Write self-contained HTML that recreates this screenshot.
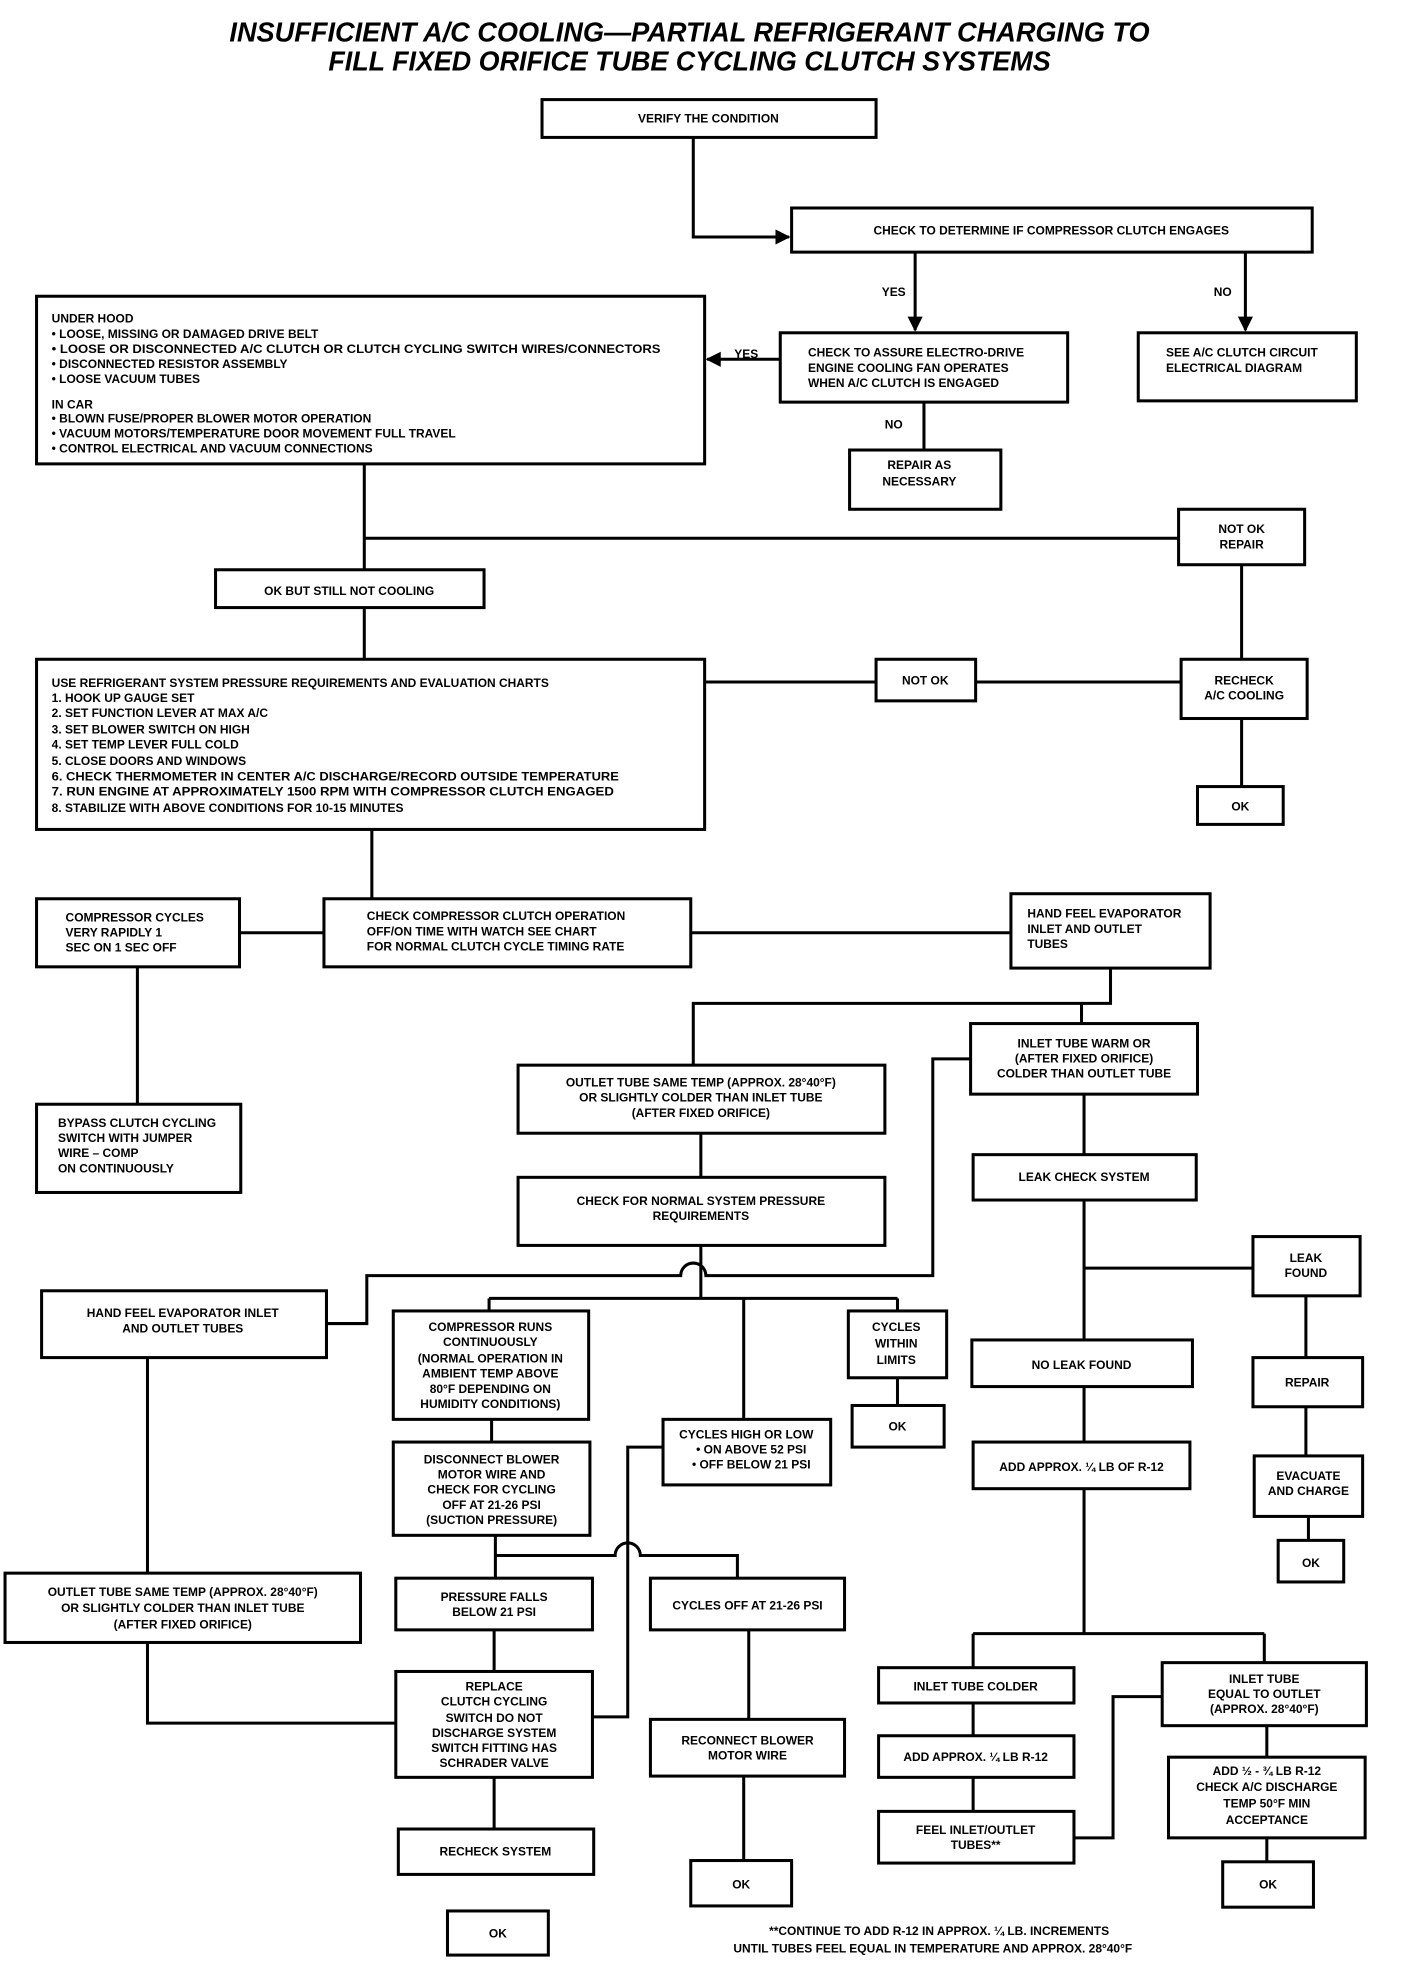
<!DOCTYPE html>
<html><head><meta charset="utf-8"><style>
html,body{margin:0;padding:0;background:#fff;}
svg{display:block;}
text{font-family:"Liberation Sans",sans-serif;font-weight:bold;font-size:9.5px;fill:#000;}
.c{text-anchor:middle;}
.t{font-size:22px;font-style:italic;text-anchor:middle;}
rect{fill:#fff;stroke:#000;stroke-width:2.4;}
.l{fill:none;stroke:#000;stroke-width:2.4;}
</style></head><body>
<svg width="1408" height="1974" viewBox="0 0 1117 1566" xmlns="http://www.w3.org/2000/svg">
<defs><marker id="a" viewBox="0 0 10 10" refX="9" refY="5" markerWidth="5" markerHeight="5" orient="auto"><path d="M0,0 L10,5 L0,10z" fill="#000"/></marker></defs>
<text class="t" x="547" y="33" textLength="730" lengthAdjust="spacingAndGlyphs">INSUFFICIENT A/C COOLING—PARTIAL REFRIGERANT CHARGING TO</text>
<text class="t" x="547" y="56" textLength="573" lengthAdjust="spacingAndGlyphs">FILL FIXED ORIFICE TUBE CYCLING CLUTCH SYSTEMS</text>

<path class="l" d="M550,109 V188 H626" marker-end="url(#a)"/>
<path class="l" d="M726,200 V262" marker-end="url(#a)"/>
<path class="l" d="M988,200 V262" marker-end="url(#a)"/>
<path class="l" d="M619,285 H561" marker-end="url(#a)"/>
<path class="l" d="M733,319 V357"/>
<path class="l" d="M289,368 V452 M289,427 H935 M289,482 V523"/>
<path class="l" d="M559,541 H695 M774,541 H937 M985,448 V523 M985,570 V624"/>
<path class="l" d="M295,658 V713 M190,740 H257 M548,740 H802 M109,767 V876"/>
<path class="l" d="M881,768 V796 H550 V845 M858,796 V812"/>
<path class="l" d="M556,899 V934 M860,868 V916"/>
<path class="l" d="M556,988 V1030 M388,1030 H712 M388,1030 V1040 M590,1030 V1126 M712,1030 V1040"/>
<path class="l" d="M259,1050 H291 V1012 H540 A10,10 0 0 1 560,1012 H740 V840 H770"/>
<path class="l" d="M712,1093 V1115"/>
<path class="l" d="M117,1077 V1248 M117,1303 V1367 H314"/>
<path class="l" d="M390,1126 V1144 M393,1218 V1252 M393,1234 H488 A10,10 0 0 1 508,1234 H585 V1252"/>
<path class="l" d="M526,1148 H498 V1362 H470"/>
<path class="l" d="M392,1293 V1326 M392,1410 V1451 M594,1293 V1364 M590,1409 V1476"/>
<path class="l" d="M860,952 V1063 M860,1006 H994 M860,1100 V1144 M1036,1028 V1077 M1036,1116 V1155 M1038,1203 V1222"/>
<path class="l" d="M860,1181 V1296 M772,1296 H1003 M772,1296 V1323 M1003,1296 V1319"/>
<path class="l" d="M772,1351 V1377 M772,1410 V1437 M852,1458 H883 V1346 H922 M1005,1369 V1394 M1005,1458 V1477"/>

<text x="709" y="235" class="c">YES</text>
<text x="970" y="235" class="c">NO</text>
<text x="592" y="284" class="c">YES</text>
<text x="709" y="340" class="c">NO</text>

<rect x="430" y="79" width="265" height="30"/><text class="c" x="562" y="97">VERIFY THE CONDITION</text>
<rect x="628" y="165" width="413" height="35"/><text class="c" x="834" y="186">CHECK TO DETERMINE IF COMPRESSOR CLUTCH ENGAGES</text>
<rect x="619" y="264" width="228" height="55"/>
<text x="641" y="283">CHECK TO ASSURE ELECTRO-DRIVE</text><text x="641" y="295">ENGINE COOLING FAN OPERATES</text><text x="641" y="307">WHEN A/C CLUTCH IS ENGAGED</text>
<rect x="903" y="264" width="173" height="54"/>
<text x="925" y="283">SEE A/C CLUTCH CIRCUIT</text><text x="925" y="295">ELECTRICAL DIAGRAM</text>
<rect x="29" y="235" width="530" height="133"/>
<text x="41" y="256">UNDER HOOD</text>
<text x="41" y="268">• LOOSE, MISSING OR DAMAGED DRIVE BELT</text>
<text x="41" y="280" textLength="483" lengthAdjust="spacingAndGlyphs">• LOOSE OR DISCONNECTED A/C CLUTCH OR CLUTCH CYCLING SWITCH WIRES/CONNECTORS</text>
<text x="41" y="292">• DISCONNECTED RESISTOR ASSEMBLY</text>
<text x="41" y="304">• LOOSE VACUUM TUBES</text>
<text x="41" y="324">IN CAR</text>
<text x="41" y="335">• BLOWN FUSE/PROPER BLOWER MOTOR OPERATION</text>
<text x="41" y="347">• VACUUM MOTORS/TEMPERATURE DOOR MOVEMENT FULL TRAVEL</text>
<text x="41" y="359">• CONTROL ELECTRICAL AND VACUUM CONNECTIONS</text>
<rect x="674" y="357" width="120" height="47"/>
<text x="704" y="372">REPAIR AS</text><text x="700" y="385">NECESSARY</text>
<rect x="935" y="404" width="100" height="44"/>
<text class="c" x="985" y="423">NOT OK</text><text class="c" x="985" y="435">REPAIR</text>
<rect x="171" y="452" width="213" height="30"/><text class="c" x="277" y="472">OK BUT STILL NOT COOLING</text>
<rect x="29" y="523" width="530" height="135"/>
<text x="41" y="545">USE REFRIGERANT SYSTEM PRESSURE REQUIREMENTS AND EVALUATION CHARTS</text>
<text x="41" y="557">1.  HOOK UP GAUGE SET</text>
<text x="41" y="569">2.  SET FUNCTION LEVER AT MAX A/C</text>
<text x="41" y="582">3.  SET BLOWER SWITCH ON HIGH</text>
<text x="41" y="594">4.  SET TEMP LEVER FULL COLD</text>
<text x="41" y="607">5.  CLOSE DOORS AND WINDOWS</text>
<text x="41" y="619" textLength="450" lengthAdjust="spacingAndGlyphs">6.  CHECK THERMOMETER IN CENTER A/C DISCHARGE/RECORD OUTSIDE TEMPERATURE</text>
<text x="41" y="631" textLength="446" lengthAdjust="spacingAndGlyphs">7.  RUN ENGINE AT APPROXIMATELY 1500 RPM WITH COMPRESSOR CLUTCH ENGAGED</text>
<text x="41" y="644">8.  STABILIZE WITH ABOVE CONDITIONS FOR 10-15 MINUTES</text>
<rect x="695" y="523" width="79" height="33"/><text class="c" x="734" y="543">NOT OK</text>
<rect x="937" y="523" width="100" height="47"/>
<text class="c" x="987" y="543">RECHECK</text><text class="c" x="987" y="555">A/C COOLING</text>
<rect x="950" y="624" width="68" height="30"/><text class="c" x="984" y="643">OK</text>
<rect x="29" y="713" width="161" height="54"/>
<text x="52" y="731">COMPRESSOR CYCLES</text><text x="52" y="743">VERY RAPIDLY 1</text><text x="52" y="755">SEC ON 1 SEC OFF</text>
<rect x="257" y="713" width="291" height="54"/>
<text x="291" y="730">CHECK COMPRESSOR CLUTCH OPERATION</text><text x="291" y="742">OFF/ON TIME WITH WATCH SEE CHART</text><text x="291" y="754">FOR NORMAL CLUTCH CYCLE TIMING RATE</text>
<rect x="802" y="709" width="158" height="59"/>
<text x="815" y="728">HAND FEEL EVAPORATOR</text><text x="815" y="740">INLET AND OUTLET</text><text x="815" y="752">TUBES</text>
<rect x="770" y="812" width="180" height="56"/>
<text class="c" x="860" y="831">INLET TUBE WARM OR</text><text class="c" x="860" y="843">(AFTER FIXED ORIFICE)</text><text class="c" x="860" y="855">COLDER THAN OUTLET TUBE</text>
<rect x="411" y="845" width="291" height="54"/>
<text class="c" x="556" y="862">OUTLET TUBE SAME TEMP (APPROX. 28°40°F)</text><text class="c" x="556" y="874">OR SLIGHTLY COLDER THAN INLET TUBE</text><text class="c" x="556" y="886">(AFTER FIXED ORIFICE)</text>
<rect x="29" y="876" width="162" height="70"/>
<text x="46" y="894">BYPASS CLUTCH CYCLING</text><text x="46" y="906">SWITCH WITH JUMPER</text><text x="46" y="918">WIRE – COMP</text><text x="46" y="930">ON CONTINUOUSLY</text>
<rect x="411" y="934" width="291" height="54"/>
<text class="c" x="556" y="956">CHECK FOR NORMAL SYSTEM PRESSURE</text><text class="c" x="556" y="968">REQUIREMENTS</text>
<rect x="772" y="916" width="177" height="36"/><text class="c" x="860" y="937">LEAK CHECK SYSTEM</text>
<rect x="994" y="981" width="85" height="47"/>
<text class="c" x="1036" y="1001">LEAK</text><text class="c" x="1036" y="1013">FOUND</text>
<rect x="33" y="1024" width="226" height="53"/>
<text class="c" x="145" y="1045">HAND FEEL EVAPORATOR INLET</text><text class="c" x="145" y="1057">AND OUTLET TUBES</text>
<rect x="312" y="1040" width="155" height="86"/>
<text class="c" x="389" y="1056">COMPRESSOR RUNS</text><text class="c" x="389" y="1068">CONTINUOUSLY</text><text class="c" x="389" y="1081">(NORMAL OPERATION IN</text><text class="c" x="389" y="1093">AMBIENT TEMP ABOVE</text><text class="c" x="389" y="1105">80°F DEPENDING ON</text><text class="c" x="389" y="1117">HUMIDITY CONDITIONS)</text>
<rect x="673" y="1040" width="78" height="53"/>
<text class="c" x="711" y="1056">CYCLES</text><text class="c" x="711" y="1069">WITHIN</text><text class="c" x="711" y="1082">LIMITS</text>
<rect x="771" y="1063" width="175" height="37"/><text class="c" x="858" y="1086">NO LEAK FOUND</text>
<rect x="994" y="1077" width="87" height="39"/><text class="c" x="1037" y="1100">REPAIR</text>
<rect x="676" y="1115" width="73" height="33"/><text class="c" x="712" y="1135">OK</text>
<rect x="526" y="1126" width="133" height="52"/>
<text class="c" x="592" y="1141">CYCLES HIGH OR LOW</text><text class="c" x="596" y="1153">• ON ABOVE 52 PSI</text><text class="c" x="596" y="1165">• OFF BELOW 21 PSI</text>
<rect x="312" y="1144" width="156" height="74"/>
<text class="c" x="390" y="1161">DISCONNECT BLOWER</text><text class="c" x="390" y="1173">MOTOR WIRE AND</text><text class="c" x="390" y="1185">CHECK FOR CYCLING</text><text class="c" x="390" y="1197">OFF AT 21-26 PSI</text><text class="c" x="390" y="1209">(SUCTION PRESSURE)</text>
<rect x="772" y="1144" width="172" height="37"/><text class="c" x="858" y="1167">ADD APPROX. ¼ LB OF R-12</text>
<rect x="995" y="1155" width="86" height="48"/>
<text class="c" x="1038" y="1174">EVACUATE</text><text class="c" x="1038" y="1186">AND CHARGE</text>
<rect x="1014" y="1222" width="52" height="33"/><text class="c" x="1040" y="1243">OK</text>
<rect x="4" y="1248" width="282" height="55"/>
<text class="c" x="145" y="1266">OUTLET TUBE SAME TEMP (APPROX. 28°40°F)</text><text class="c" x="145" y="1279">OR SLIGHTLY COLDER THAN INLET TUBE</text><text class="c" x="145" y="1292">(AFTER FIXED ORIFICE)</text>
<rect x="314" y="1252" width="156" height="41"/>
<text class="c" x="392" y="1270">PRESSURE FALLS</text><text class="c" x="392" y="1282">BELOW 21 PSI</text>
<rect x="516" y="1252" width="154" height="41"/><text class="c" x="593" y="1277">CYCLES OFF AT 21-26 PSI</text>
<rect x="314" y="1326" width="156" height="84"/>
<text class="c" x="392" y="1341">REPLACE</text><text class="c" x="392" y="1353">CLUTCH CYCLING</text><text class="c" x="392" y="1366">SWITCH DO NOT</text><text class="c" x="392" y="1378">DISCHARGE SYSTEM</text><text class="c" x="392" y="1390">SWITCH FITTING HAS</text><text class="c" x="392" y="1402">SCHRADER VALVE</text>
<rect x="697" y="1323" width="155" height="28"/><text class="c" x="774" y="1341">INLET TUBE COLDER</text>
<rect x="922" y="1319" width="162" height="50"/>
<text class="c" x="1003" y="1335">INLET TUBE</text><text class="c" x="1003" y="1347">EQUAL TO OUTLET</text><text class="c" x="1003" y="1359">(APPROX. 28°40°F)</text>
<rect x="516" y="1364" width="154" height="45"/>
<text class="c" x="593" y="1384">RECONNECT BLOWER</text><text class="c" x="593" y="1396">MOTOR WIRE</text>
<rect x="697" y="1377" width="155" height="33"/><text class="c" x="774" y="1397">ADD APPROX. ¼ LB R-12</text>
<rect x="927" y="1394" width="156" height="64"/>
<text class="c" x="1005" y="1408">ADD ½ - ¾ LB R-12</text><text class="c" x="1005" y="1421">CHECK A/C DISCHARGE</text><text class="c" x="1005" y="1434">TEMP 50°F MIN</text><text class="c" x="1005" y="1447">ACCEPTANCE</text>
<rect x="697" y="1437" width="155" height="41"/>
<text class="c" x="774" y="1455">FEEL INLET/OUTLET</text><text class="c" x="774" y="1467">TUBES**</text>
<rect x="316" y="1451" width="155" height="36"/><text class="c" x="393" y="1472">RECHECK SYSTEM</text>
<rect x="548" y="1476" width="80" height="36"/><text class="c" x="588" y="1498">OK</text>
<rect x="970" y="1477" width="72" height="36"/><text class="c" x="1006" y="1498">OK</text>
<rect x="355" y="1516" width="80" height="35"/><text class="c" x="395" y="1537">OK</text>
<text class="c" x="745" y="1535">**CONTINUE TO ADD R-12 IN APPROX. ¼ LB. INCREMENTS</text>
<text class="c" x="740" y="1549">UNTIL TUBES FEEL EQUAL IN TEMPERATURE AND APPROX. 28°40°F</text>
</svg>
</body></html>
